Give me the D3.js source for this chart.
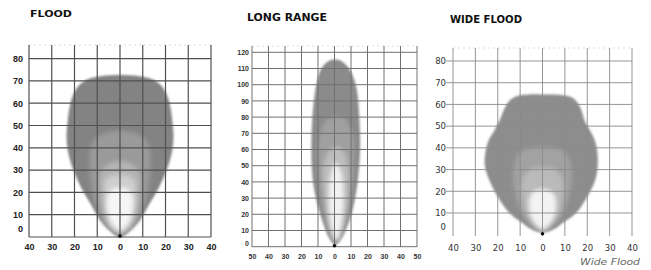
<!DOCTYPE html>
<html>
<head>
<meta charset="utf-8">
<script src="https://cdn.jsdelivr.net/npm/d3@7"></script>
<style>
body { margin: 0; background: #fff; }
</style>
</head>
<body>
<svg id="chart" width="651" height="270"></svg>
<script>
// tick values
var floodXTicks = [-40, -30, -20, -10, 0, 10, 20, 30, 40];
var floodYTicks = [0, 10, 20, 30, 40, 50, 60, 70, 80];
var longXTicks = [-50, -40, -30, -20, -10, 0, 10, 20, 30, 40, 50];
var longYTicks = [0, 10, 20, 30, 40, 50, 60, 70, 80, 90, 100, 110, 120];
var wideXTicks = [-40, -30, -20, -10, 0, 10, 20, 30, 40];
var wideYTicks = [0, 10, 20, 30, 40, 50, 60, 70, 80];

// beam contours, [lateral m, distance m], outer to inner
var floodOuter = [[0,0],[5,3.5],[9,8],[13,15],[17,22],[20.5,30],[22.8,38],[23.5,45],[23,52],[22,59],[20.5,64],[18,68],[14,70.8],[8,72.2],[0,72.6],[-8,72.2],[-14,70.8],[-18,68],[-20.5,64],[-22,59],[-23,52],[-23.5,45],[-22.8,38],[-20.5,30],[-17,22],[-13,15],[-9,8],[-5,3.5]];
var floodMid = [[0,1],[6,5],[10,12],[12.5,22],[13.5,32],[13,40],[10,45],[5,47],[0,47.5],[-5,47],[-10,45],[-13,40],[-13.5,32],[-12.5,22],[-10,12],[-6,5]];
var floodLight = [[0,1.5],[5,5],[8,12],[9,22],[8.5,29],[5,33],[0,34],[-5,33],[-8.5,29],[-9,22],[-8,12],[-5,5]];
var floodLighter = [[0,2],[4,5],[6.5,12],[7,20],[6,26],[0,28],[-6,26],[-7,20],[-6.5,12],[-4,5]];
var floodCore = [[0,3],[3.5,6],[5.5,12],[5.5,18],[3.5,21.5],[0,22],[-3.5,21.5],[-5.5,18],[-5.5,12],[-3.5,6]];

var longOuter = [[0.5,1],[4,5],[7,11],[11,23],[14,40],[15.5,60],[15,80],[13.5,97],[10,108],[5,114],[1,115.5],[-3,115],[-8,110],[-11,100],[-13,85],[-14,60],[-13,40],[-10,25],[-6,12],[-3,5]];
var longMid = [[1,3],[6,12],[10,30],[11.5,50],[11,68],[7,78],[1,80],[-5,78],[-9,68],[-10,50],[-8,30],[-4,12]];
var longLight = [[1,3],[5,12],[8,30],[8.5,48],[6,58],[1,62],[-4,58],[-7,48],[-6,30],[-3,12]];
var longCore = [[1,4],[4,12],[5.5,28],[4.5,44],[1,52],[-2.5,44],[-3.5,28],[-2,12]];

var wideOuter = [[0,1],[5,2.5],[9,5.4],[15,10],[20,17.5],[23.5,25],[24.6,31],[24.6,37],[23.5,43],[21.5,47.5],[19,52],[17.5,57],[15.5,61],[12.5,63.5],[7,64.5],[0,64.6],[-6,64.6],[-11,64],[-14.5,62],[-17,58],[-19,53],[-21.5,48],[-24,43.6],[-25.5,38],[-25.8,32],[-23.7,25],[-20,17.5],[-14.8,10],[-9,5.4],[-5,2.5]];
var wideMid = [[0,2],[8,8],[12,18],[13,30],[10,38],[0,40.5],[-10,38],[-13,30],[-12,18],[-8,8]];
var wideLight = [[0,2],[6,7],[9,16],[9,26],[5,30.5],[0,31],[-5,30.5],[-9,26],[-9,16],[-6,7]];
var wideCore = [[0,2.5],[4,6],[6,12],[5,19],[0,21],[-5,19],[-6,12],[-4,6]];

var floodShades = ['#838383', '#9a9a9a', '#b4b4b4', '#cecece', '#f6f6f6'];
var longShades = ['#8b8b8b', '#a0a0a0', '#bdbdbd', '#f2f2f2'];
var wideShades = ['#8d8d8d', '#a2a2a2', '#bababa', '#f3f3f3'];

var svg = d3.select('#chart');

var defs = svg.append('defs');
defs.append('filter').attr('id', 'soft').attr('x', '-20%').attr('y', '-20%').attr('width', '140%').attr('height', '140%')
    .append('feGaussianBlur').attr('stdDeviation', 0.9);
defs.append('filter').attr('id', 'softer').attr('x', '-30%').attr('y', '-30%').attr('width', '160%').attr('height', '160%')
    .append('feGaussianBlur').attr('stdDeviation', 2.2);

function drawPanel(p) {
    var x = d3.scaleLinear().domain(p.xDomain).range(p.xRange);
    var y = d3.scaleLinear().domain(p.yDomain).range(p.yRange);
    var g = svg.append('g');

    var line = d3.line()
        .x(function(d) { return x(d[0]); })
        .y(function(d) { return y(d[1]); })
        .curve(d3.curveCatmullRomClosed.alpha(0.5));

    // beam
    var beam = g.append('g');
    p.contours.forEach(function(c, i) {
        beam.append('path')
            .attr('d', line(c))
            .attr('fill', p.shades[i])
            .attr('filter', i === 0 ? 'url(#soft)' : 'url(#softer)');
    });

    // faint top line
    g.append('line')
        .attr('x1', p.xRange[0]).attr('x2', p.xRange[1])
        .attr('y1', p.gridTop).attr('y2', p.gridTop)
        .attr('stroke', '#ddd').attr('stroke-width', 1)
        .attr('stroke-dasharray', '2,3');

    // grid
    g.selectAll('.v')
        .data(p.xTicks)
        .enter()
        .append('line')
        .attr('x1', function(d) { return x(d); })
        .attr('x2', function(d) { return x(d); })
        .attr('y1', p.gridTop)
        .attr('y2', p.gridBottom)
        .attr('stroke', p.grid)
        .attr('stroke-width', p.gridWidth);

    g.selectAll('.h')
        .data(p.yTicks.filter(function(d) { return p.zeroLine || d > 0; }))
        .enter()
        .append('line')
        .attr('x1', p.hLeft)
        .attr('x2', p.xRange[1])
        .attr('y1', function(d) { return y(d); })
        .attr('y2', function(d) { return y(d); })
        .attr('stroke', p.grid)
        .attr('stroke-width', p.gridWidth);

    // origin dot
    g.append('circle')
        .attr('cx', x(0)).attr('cy', y(0) - 1)
        .attr('r', 1.8)
        .attr('fill', '#111');

    // axes (labels only)
    var yAxis = d3.axisLeft(y)
        .tickValues(p.yTicks)
        .tickSize(0)
        .tickPadding(0)
        .tickFormat(function(d) { return d; });
    var ya = g.append('g')
        .attr('transform', 'translate(' + p.yLabelX + ',0)')
        .call(yAxis);
    ya.select('.domain').remove();
    ya.selectAll('text')
        .attr('font-family', p.font)
        .attr('font-weight', p.weight)
        .attr('font-size', p.fontSize)
        .attr('fill', p.textColor)
        .attr('dy', function(d) { return d === 0 ? p.zeroShift : '0.32em'; });

    var xAxis = d3.axisBottom(x)
        .tickValues(p.xTicks)
        .tickSize(0)
        .tickPadding(0)
        .tickFormat(function(d) { return Math.abs(d); });
    var xa = g.append('g')
        .attr('transform', 'translate(0,' + p.xLabelY + ')')
        .call(xAxis);
    xa.select('.domain').remove();
    xa.selectAll('text')
        .attr('font-family', p.font)
        .attr('font-weight', p.weight)
        .attr('font-size', p.fontSize)
        .attr('fill', p.textColor)
        .attr('dy', '0.32em');

    // title
    g.append('text')
        .text(p.title)
        .attr('x', p.titleX)
        .attr('y', p.titleY)
        .attr('textLength', p.titleLen)
        .attr('lengthAdjust', 'spacingAndGlyphs')
        .attr('font-family', 'DejaVu Sans')
        .attr('font-weight', 'bold')
        .attr('font-size', p.titleSize)
        .attr('fill', '#111');
}

drawPanel({
    title: 'FLOOD', titleX: 30, titleY: 17, titleLen: 42, titleSize: 9,
    xDomain: [-40, 40], xRange: [29, 211],
    yDomain: [0, 80], yRange: [237, 58.6],
    xTicks: floodXTicks, yTicks: floodYTicks,
    contours: [floodOuter, floodMid, floodLight, floodLighter, floodCore],
    shades: floodShades,
    gridTop: 45, gridBottom: 237, hLeft: 29, zeroLine: true,
    grid: '#505050', gridWidth: 1.2,
    yLabelX: 23, xLabelY: 247, zeroShift: '-0.6em',
    font: 'Liberation Sans', weight: 'bold', fontSize: 9, textColor: '#222'
});

drawPanel({
    title: 'LONG RANGE', titleX: 247, titleY: 20.5, titleLen: 80, titleSize: 10,
    xDomain: [-50, 50], xRange: [252, 417],
    yDomain: [0, 120], yRange: [246.7, 52.3],
    xTicks: longXTicks, yTicks: longYTicks,
    contours: [longOuter, longMid, longLight, longCore],
    shades: longShades,
    gridTop: 46, gridBottom: 247, hLeft: 252, zeroLine: true,
    grid: '#707070', gridWidth: 1,
    yLabelX: 249, xLabelY: 257, zeroShift: '-0.2em',
    font: 'Liberation Sans', weight: 'bold', fontSize: 7, textColor: '#333'
});

drawPanel({
    title: 'WIDE FLOOD', titleX: 450, titleY: 22.5, titleLen: 72, titleSize: 10,
    xDomain: [-40, 40], xRange: [453, 632],
    yDomain: [0, 80], yRange: [234.7, 61],
    xTicks: wideXTicks, yTicks: wideYTicks,
    contours: [wideOuter, wideMid, wideLight, wideCore],
    shades: wideShades,
    gridTop: 48, gridBottom: 236, hLeft: 446, zeroLine: false,
    grid: '#8a8a8a', gridWidth: 0.9,
    yLabelX: 446, xLabelY: 248, zeroShift: '-0.6em',
    font: 'DejaVu Sans', weight: 'normal', fontSize: 8.5, textColor: '#333'
});

svg.append('text')
    .text('Wide Flood')
    .attr('x', 580)
    .attr('y', 265)
    .attr('textLength', 60)
    .attr('lengthAdjust', 'spacingAndGlyphs')
    .attr('font-family', 'DejaVu Sans')
    .attr('font-style', 'italic')
    .attr('font-size', 9)
    .attr('fill', '#666');
</script>
</body>
</html>
